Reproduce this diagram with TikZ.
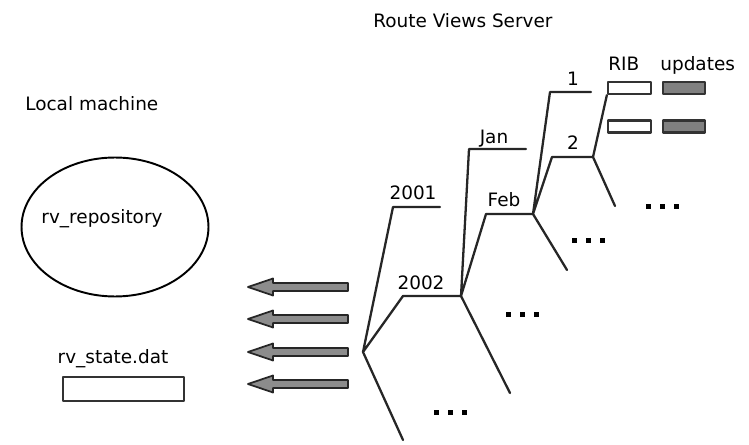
\documentclass[tikz,border=0pt]{standalone}
\usepackage{fontspec}
\setmainfont{DejaVu Sans}
\usetikzlibrary{shapes.geometric}
\begin{document}
\begin{tikzpicture}[x=0.02cm, y=-0.02cm, font=\fontsize{10.5}{12}\selectfont, line join=round, line cap=round]
    \tikzset{branch/.style={line width=1.3pt, black!85},
        txt/.style={anchor=base, inner sep=0pt},
        file/.style={draw=black!80, line width=1.3pt, inner sep=0pt, minimum height=0.24cm},
        pipe/.style={draw=black!85, fill=black!45, line width=1pt}}
    \useasboundingbox (0,0) rectangle (749,445);
    % local machine
    \node[txt, anchor=base west] (lm) at (25,111) {Local machine};
    \node[draw, ellipse, line width=1.1pt, inner sep=0pt, minimum width=3.74cm, minimum height=2.78cm] (repo) at (115,227) {};
    \node[txt] (repotxt) at (102,224) {rv\_repository};
    \node[txt] (statetxt) at (113,363) {rv\_state.dat};
    \node[file, minimum width=2.42cm, minimum height=0.48cm] (state) at (123.5,389) {};
    % transfer arrows
    \foreach \y in {287,319,352,384}
        \draw[pipe] (348,\y-4) -- (273,\y-4) -- (273,\y-8.5) -- (248,\y) -- (273,\y+8.5) -- (273,\y+4) -- (348,\y+4) -- cycle;
    % route views server
    \node[txt, anchor=base west] (rv) at (373,28) {Route Views Server};
    \coordinate (r) at (363,352);
    \coordinate (y1) at (393,207);
    \coordinate (y1e) at (440,207);
    \coordinate (y2) at (403,296);
    \coordinate (n2002) at (461,296);
    \coordinate (rd) at (403,440);
    \coordinate (m1) at (469,149);
    \coordinate (m1e) at (526,149);
    \coordinate (m2) at (486,214);
    \coordinate (nfeb) at (533,214);
    \coordinate (md) at (510,393);
    \coordinate (d1) at (550,92);
    \coordinate (d1e) at (591,92);
    \coordinate (d2) at (552,157);
    \coordinate (nday) at (593,157);
    \coordinate (dd) at (567,270);
    \coordinate (hd) at (615,206);
    \node[file, minimum width=0.86cm] (rib1) at (629.5,88) {};
    \node[file, minimum width=0.86cm] (rib2) at (629.5,126.5) {};
    \node[file, fill=black!50, minimum width=0.84cm] (up1) at (684,88) {};
    \node[file, fill=black!50, minimum width=0.84cm] (up2) at (684,126.5) {};
    \draw[branch] (r)--(y1)--(y1e) (r)--(y2)--(n2002) (r)--(rd);
    \draw[branch] (n2002)--(m1)--(m1e) (n2002)--(m2)--(nfeb) (n2002)--(md);
    \draw[branch] (nfeb)--(d1)--(d1e) (nfeb)--(d2)--(nday) (nfeb)--(dd);
    \draw[branch] (nday)--(rib1.south west) (nday)--(hd);
    \node[txt] (l2001) at (413,200) {2001};
    \node[txt] (l2002) at (421,290) {2002};
    \node[txt] (ljan) at (494,144) {Jan};
    \node[txt] (lfeb) at (504,207) {Feb};
    \node[txt] (l1) at (573,86) {1};
    \node[txt] (l2) at (573,150) {2};
    \node[txt, anchor=base west] (lrib) at (608,71) {RIB};
    \node[txt, anchor=base west] (lup) at (660,71) {updates};
    % more entries
    \foreach \cx/\cy in {450/412, 522/314, 588/241, 662/207}
        \foreach \dx in {-14,0,14}
            \fill (\cx+\dx-2.5,\cy-2.5) rectangle (\cx+\dx+2.5,\cy+2.5);
\end{tikzpicture}
\end{document}
